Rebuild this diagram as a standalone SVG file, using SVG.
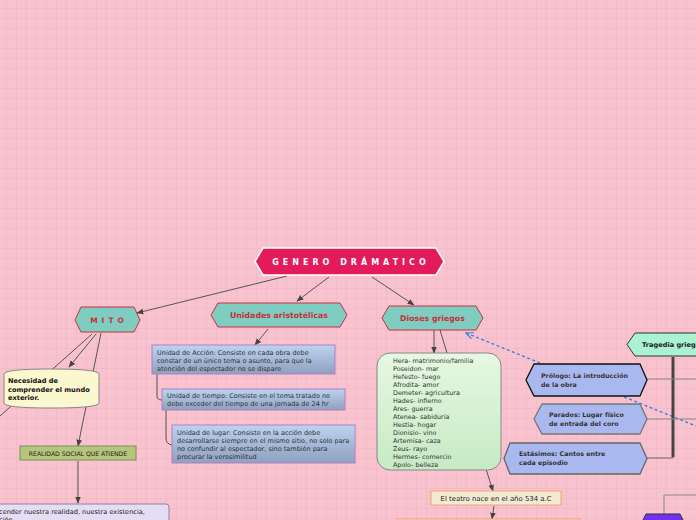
<svg xmlns="http://www.w3.org/2000/svg" width="696" height="520" viewBox="0 0 696 520">
<defs>
<pattern id="grid" x="6" y="8" width="10" height="10" patternUnits="userSpaceOnUse">
<path d="M0 0H10M0 0V10" stroke="#EDB2C1" stroke-width="1" fill="none"/>
</pattern>
<linearGradient id="gBlue" x1="0" y1="0" x2="0" y2="1">
<stop offset="0" stop-color="#BCD3F2"/><stop offset="1" stop-color="#8EA1BE"/>
</linearGradient>
<linearGradient id="gGreen" x1="0" y1="0" x2="0" y2="1">
<stop offset="0" stop-color="#E6F8E2"/><stop offset="1" stop-color="#C6EAC4"/>
</linearGradient>
<marker id="arr" viewBox="0 0 10 10" refX="9" refY="5" markerWidth="7" markerHeight="7" orient="auto-start-reverse" markerUnits="userSpaceOnUse">
<path d="M0 1L10 5L0 9z" fill="#444"/>
</marker>
<marker id="arrB" viewBox="0 0 10 10" refX="1" refY="5" markerWidth="8" markerHeight="8" orient="auto" markerUnits="userSpaceOnUse">
<path d="M10 1L1 5L10 9" fill="none" stroke="#3A7BE0" stroke-width="1.5"/>
</marker>
</defs>
<style>
text{font-family:"DejaVu Sans","Verdana",sans-serif;}
.ln{stroke:#555;stroke-width:1;fill:none;}
.hx{fill:#7ECDC0;stroke:#C8303C;stroke-width:1;}
.hxt{fill:#C8303C;font-weight:bold;text-anchor:middle;}
.ub{fill:url(#gBlue);stroke:#B27FC6;stroke-width:1;}
.ut{font-size:6.5px;fill:#333;}
.dt{font-size:6.4px;fill:#333;}
.rt{font-size:6.3px;font-weight:bold;fill:#333;}
.blu{fill:#A9B9F0;stroke-width:1.3;}
</style>
<rect width="696" height="520" fill="#F8C3CF"/>
<rect width="696" height="520" fill="url(#grid)"/>

<g id="connectors">
<line class="ln" x1="287" y1="276" x2="137" y2="313" marker-end="url(#arr)"/>
<line class="ln" x1="329" y1="277" x2="297" y2="301" marker-end="url(#arr)"/>
<line class="ln" x1="372" y1="277" x2="414" y2="305" marker-end="url(#arr)"/>
<line class="ln" x1="92" y1="334" x2="0" y2="416"/>
<line class="ln" x1="96" y1="334" x2="69" y2="367" marker-end="url(#arr)"/>
<line class="ln" x1="101" y1="333" x2="78" y2="446" marker-end="url(#arr)"/>
<line class="ln" x1="78" y1="461" x2="78" y2="503" marker-end="url(#arr)"/>
<line class="ln" x1="268" y1="329" x2="255" y2="345" marker-end="url(#arr)"/>
<path class="ln" d="M157 374V396Q157 400 162 400" stroke="#888"/>
<path class="ln" d="M166 410V438Q166 444 172 445" stroke="#888"/>
<line class="ln" x1="434" y1="330" x2="434" y2="353" marker-end="url(#arr)"/>
<line class="ln" x1="440" y1="330" x2="447" y2="353"/>
<line class="ln" x1="486" y1="469" x2="493" y2="491" marker-end="url(#arr)"/>
<line class="ln" x1="494" y1="506" x2="492" y2="519" marker-end="url(#arr)"/>
<line x1="466" y1="333" x2="696" y2="426" stroke="#3A7BE0" stroke-width="1.3" stroke-dasharray="3,2.5" marker-start="url(#arrB)"/>
<path d="M673 357V458H647" fill="none" stroke="#666" stroke-width="1"/>
<line x1="673" y1="357" x2="673" y2="457" stroke="#444" stroke-width="3"/>
<line x1="647" y1="379" x2="696" y2="379" stroke="#888"/>
<line x1="647" y1="419" x2="696" y2="419" stroke="#888"/>
<path d="M664 519V495H696" fill="none" stroke="#888"/>
</g>

<g id="titulo">
<path d="M255 261.5L263 248H436L444 261.5L436 275H263Z" fill="#E31B5C" stroke="#fff" stroke-width="1.5"/>
<text x="351" y="265" font-size="8" font-weight="bold" fill="#fff" text-anchor="middle" letter-spacing="4">GENERO DRÁMATICO</text>
</g>

<g id="mito">
<path d="M75 320L81 307H134L140 320L134 332H81Z" class="hx"/>
<text x="109" y="323" font-size="7.5" class="hxt" letter-spacing="4">MITO</text>
</g>

<g id="necesidad">
<path d="M4 374Q4 369 51 369Q99 369 99 374V403Q99 408 51 408Q4 408 4 403Z" fill="#FBF7CF" stroke="#888"/>
<text x="8" y="383" font-size="6.6" font-weight="bold" fill="#111">Necesidad de</text>
<text x="8" y="391.5" font-size="6.6" font-weight="bold" fill="#111">comprender el mundo</text>
<text x="8" y="400" font-size="6.6" font-weight="bold" fill="#111">exterior.</text>
</g>

<g id="realidad">
<rect x="20" y="446" width="116" height="14" fill="#B5C57B" stroke="#7E8C5C"/>
<text x="78" y="455.5" font-size="6.1" fill="#222" text-anchor="middle">REALIDAD SOCIAL QUE ATIENDE</text>
</g>

<g id="comprender">
<rect x="-10" y="504" width="179" height="24" rx="3" fill="#E5DDF4" stroke="#8C82A6"/>
<text x="-1" y="514" font-size="6.6" fill="#222">cender nuestra realidad, nuestra existencia,</text>
<text x="-1" y="522" font-size="6.6" fill="#222">ción</text>
</g>

<g id="unidades">
<path d="M211 315L218 303H340L347 315L340 327H218Z" class="hx"/>
<text x="279" y="318" font-size="7.8" class="hxt">Unidades aristotélicas</text>
</g>

<g id="accion">
<rect x="152" y="345" width="183" height="29" class="ub"/>
<text x="157" y="355" class="ut">Unidad de Acción: Consiste en cada obra debe</text>
<text x="157" y="363" class="ut">constar de un único tema o asunto, para que la</text>
<text x="157" y="371" class="ut">atención del espectador no se dispare</text>
</g>

<g id="tiempo">
<rect x="162" y="389" width="183" height="21" class="ub"/>
<text x="167" y="398" class="ut">Unidad de tiempo: Consiste en el tema tratado no</text>
<text x="167" y="406" class="ut">debe exceder del tiempo de una jornada de 24 hr</text>
</g>

<g id="lugar">
<rect x="172" y="425" width="183" height="38" class="ub"/>
<text x="177" y="435" class="ut">Unidad de lugar: Consiste en la acción debe</text>
<text x="177" y="443" class="ut">desarrollarse siempre en el mismo sitio, no solo para</text>
<text x="177" y="451" class="ut">no confundir al espectador, sino también para</text>
<text x="177" y="459" class="ut">procurar la verosimilitud</text>
</g>

<g id="dioses">
<path d="M382 318L389 306H476L483 318L476 330H389Z" class="hx"/>
<text x="432.5" y="321" font-size="7.8" class="hxt">Dioses griegos</text>
</g>

<g id="lista">
<rect x="377" y="353" width="124" height="117" rx="13" fill="url(#gGreen)" stroke="#888"/>
<text class="dt" x="393" y="362.5">Hera- matrimonio/familia</text>
<text class="dt" x="393" y="370.5">Poseidon- mar</text>
<text class="dt" x="393" y="378.5">Hefesto- fuego</text>
<text class="dt" x="393" y="386.5">Afrodita- amor</text>
<text class="dt" x="393" y="394.5">Demeter- agricultura</text>
<text class="dt" x="393" y="402.5">Hades- infierno</text>
<text class="dt" x="393" y="410.5">Ares- guerra</text>
<text class="dt" x="393" y="418.5">Atenea- sabiduría</text>
<text class="dt" x="393" y="426.5">Hestia- hogar</text>
<text class="dt" x="393" y="434.5">Dionisio- vino</text>
<text class="dt" x="393" y="442.5">Artemisa- caza</text>
<text class="dt" x="393" y="450.5">Zeus- rayo</text>
<text class="dt" x="393" y="458.5">Hermes- comercio</text>
<text class="dt" x="393" y="466.5">Apolo- belleza</text>
</g>

<g id="teatro">
<rect x="431" y="491" width="130" height="14" fill="#F4EAD4" stroke="#F2A374"/>
<text x="496" y="500.5" font-size="6.9" fill="#222" text-anchor="middle">El teatro nace en el año 534 a.C</text>
</g>

<g id="fondo">
<rect x="397" y="519" width="183" height="10" fill="#F6DCC4" stroke="#F2A374"/>
</g>

<g id="tragedia">
<path d="M627 344.5L635 333H710V356H635Z" fill="#A9F2D2" stroke="#333"/>
<text x="642" y="347" font-size="6.6" font-weight="bold" fill="#222">Tragedia griega</text>
</g>

<g id="prologo">
<path d="M526 380L534 364H640L647 380L640 396H534Z" class="blu" stroke="#111"/>
<text x="541" y="378" class="rt">Prólogo: La introducción</text>
<text x="541" y="387" class="rt">de la obra</text>
</g>

<g id="parados">
<path d="M534 419L542 404H640L647 419L640 434H542Z" class="blu" stroke="#777"/>
<text x="549" y="417" class="rt">Parados: Lugar físico</text>
<text x="549" y="425.5" class="rt">de entrada del coro</text>
</g>

<g id="estasimos">
<path d="M504 458.5L510 443H640L647 458.5L640 474H510Z" class="blu" stroke="#666"/>
<text x="519" y="456" class="rt">Estásimos: Cantos entre</text>
<text x="519" y="465" class="rt">cada episodio</text>
</g>

<g id="morado">
<path d="M642 522L646 514H680L684 522Z" fill="#7031F2" stroke="#333"/>
</g>
</svg>
